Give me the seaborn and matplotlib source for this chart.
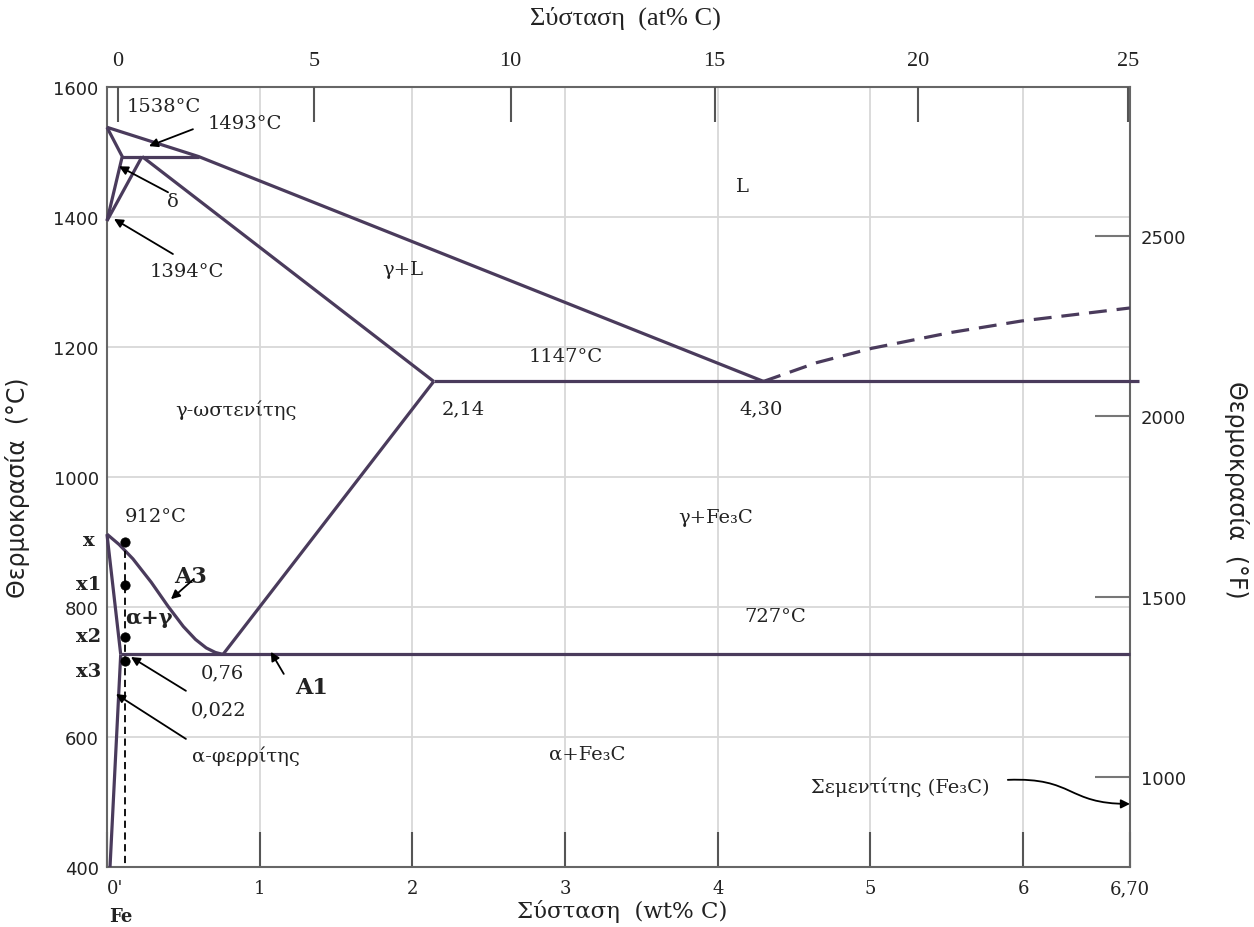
import numpy as np
import pandas as pd
import matplotlib.pyplot as plt
from matplotlib.path import Path
from matplotlib.patches import FancyArrowPatch
from matplotlib.ticker import MultipleLocator
import seaborn as sns

# Phase boundaries (wt% C, degrees C)
liquidus_wt = [0, 0.6, 4.30]
liquidus_t = [1538, 1493, 1147]
peritectic_wt = [0.1, 0.6]
peritectic_t = [1493, 1493]
delta_wt = [0, 0.1, 0]
delta_t = [1538, 1493, 1394]
delta_gamma_wt = [0.23, 0]
delta_gamma_t = [1493, 1394]
solidus_wt = [0.23, 2.14]
solidus_t = [1493, 1147]
eutectic_wt = [2.14, 6.76]
eutectic_t = [1147, 1147]
acm_wt = [2.14, 0.76]
acm_t = [1147, 727]
a3_wt = [0, 0.08, 0.17, 0.29, 0.40, 0.50, 0.58, 0.65, 0.71, 0.76]
a3_t = [912, 896, 874, 838, 801, 770, 750, 737, 730, 727]
alpha_gamma_wt = [0, 0.09]
alpha_gamma_t = [912, 727]
alpha_solvus_wt = [0.09, 0.02]
alpha_solvus_t = [727, 400]
eutectoid_wt = [0.09, 6.70]
eutectoid_t = [727, 727]
dashed_liq_wt = [4.30, 4.65, 5.01, 5.52, 5.99, 6.70]
dashed_liq_t = [1147, 1176, 1198, 1222, 1240, 1260]

# Alloy line and cooling points
alloy_wt = 0.12
alloy_t = [900, 834, 754, 717]
alloy_names = ['x', 'x1', 'x2', 'x3']
alloy_label_t = [903, 836, 755, 702]

# Axes ticks
wt_ticks = [0, 1, 2, 3, 4, 5, 6, 6.70]
wt_labels = ["0'", '1', '2', '3', '4', '5', '6', '6,70']
at_labels = ['0', '5', '10', '15', '20', '25']
at_tick_wt = [0.072, 1.355, 2.644, 3.979, 5.314, 6.688]
degf_ticks = [1000, 1500, 2000, 2500]

LINE = '#4a3b5c'
TXT = '#222222'
SERIF = 'DejaVu Serif'

sns.set_style('white')
plt.rcParams['font.family'] = ['DejaVu Sans']

fig = plt.figure(figsize=(12.54, 9.28), dpi=100)
ax = fig.add_axes([0.0853, 0.0647, 0.8158, 0.8405])

boundaries = [
    (liquidus_wt, liquidus_t), (peritectic_wt, peritectic_t),
    (delta_wt, delta_t), (delta_gamma_wt, delta_gamma_t),
    (solidus_wt, solidus_t), (eutectic_wt, eutectic_t),
    (acm_wt, acm_t), (a3_wt, a3_t), (alpha_gamma_wt, alpha_gamma_t),
    (alpha_solvus_wt, alpha_solvus_t), (eutectoid_wt, eutectoid_t),
]
for xs, ys in boundaries:
    sns.lineplot(x=xs, y=ys, sort=False, estimator=None, color=LINE,
                 lw=2.3, ax=ax, zorder=3)
for ln in ax.lines:
    ln.set_clip_on(False)
    ln.set_solid_capstyle('butt')
    ln.set_solid_joinstyle('round')

sns.lineplot(x=dashed_liq_wt, y=dashed_liq_t, sort=False, estimator=None,
             color=LINE, lw=2.3, linestyle=(0, (5.6, 3.1)), ax=ax, zorder=3)

# alloy composition line with points
ax.plot([alloy_wt, alloy_wt], [max(alloy_t) + 5, 400], color='black',
        lw=1.3, linestyle=(0, (4, 2.5)), zorder=4)
sns.scatterplot(x=[alloy_wt] * len(alloy_t), y=alloy_t, color='black', s=45,
                edgecolor='black', ax=ax, zorder=5)

ax.set_xlim(0, 6.70)
ax.set_ylim(400, 1600)

ax.set_xticks(wt_ticks)
ax.set_xticklabels(wt_labels, family=SERIF, fontsize=13, color=TXT)
ax.get_xticklabels()[0].set_ha('left')
ax.set_yticks(range(400, 1601, 200))
ax.set_yticklabels([str(v) for v in range(400, 1601, 200)], fontsize=13, color=TXT)
ax.yaxis.set_minor_locator(MultipleLocator(100))
ax.tick_params(axis='x', direction='in', length=25, width=1.5, color='#555555', pad=9)
ax.tick_params(axis='y', which='both', direction='in', length=9, width=1.3,
               color='#555555', pad=6)
ax.grid(True, color='#d8d8d8', lw=1.3, zorder=0)
for sp in ax.spines.values():
    sp.set_color('#666666')
    sp.set_linewidth(1.5)

# top axis in at% C
ax_top = ax.twiny()
ax_top.set_xlim(ax.get_xlim())
ax_top.set_xticks(at_tick_wt)
ax_top.set_xticklabels(at_labels, family='Liberation Serif', fontsize=16, color=TXT)
ax_top.tick_params(axis='x', direction='in', length=25, width=1.5, color='#555555', pad=12)
ax_top.grid(False)
for sp in ax_top.spines.values():
    sp.set_visible(False)

# right axis in degrees F
ax_f = ax.secondary_yaxis('right', functions=(lambda c: c * 9 / 5 + 32,
                                              lambda f: (f - 32) * 5 / 9))
ax_f.set_yticks(degf_ticks)
ax_f.set_yticklabels([str(v) for v in degf_ticks], fontsize=13, color=TXT)
ax_f.tick_params(direction='in', length=25, width=1.5, color='#777777', pad=8)
ax_f.spines['right'].set_visible(False)

# axis titles
fig.text(622 / 1254, 1 - 912 / 928, 'Σύσταση  (wt% C)', family=SERIF, fontsize=16.5,
         ha='center', va='center', color=TXT)
fig.text(625 / 1254, 1 - 18 / 928, 'Σύσταση  (at% C)', family='Liberation Serif',
         fontsize=19, ha='center', va='center', color=TXT)
fig.text(18 / 1254, 1 - 488 / 928, 'Θερμοκρασία  (°C)', fontsize=17, rotation=90,
         ha='center', va='center', color=TXT)
fig.text(1237 / 1254, 1 - 490 / 928, 'Θερμοκρασία  (°F)', fontsize=17, rotation=270,
         ha='center', va='center', color=TXT)

# region and point labels
labels = [
    (0.373, 1571, '1538°C'), (0.903, 1545, '1493°C'), (0.432, 1425, 'δ'),
    (0.524, 1317, '1394°C'), (4.162, 1448, 'L'), (1.937, 1320, 'γ+L'),
    (3.004, 1186, '1147°C'), (0.844, 1105, 'γ-ωστενίτης'), (2.336, 1105, '2,14'),
    (4.287, 1105, '4,30'), (0.321, 940, '912°C'), (3.986, 938, 'γ+Fe₃C'),
    (4.378, 786, '727°C'), (0.759, 700, '0,76'), (0.733, 643, '0,022'),
    (0.910, 572, 'α-φερρίτης'), (3.148, 574, 'α+Fe₃C'),
    (5.196, 525, 'Σεμεντίτης (Fe₃C)'),
]
for x, y, s in labels:
    ax.text(x, y, s, family=SERIF, fontsize=14, ha='center', va='center',
            color=TXT, zorder=6)

bold_labels = [(0.55, 848, 'A3', 16), (0.275, 785, 'α+γ', 15), (1.342, 677, 'A1', 16)]
for x, y, s, fs in bold_labels:
    ax.text(x, y, s, family=SERIF, fontsize=fs, fontweight='bold', ha='center',
            va='center', color=TXT, zorder=6)

for name, t in zip(alloy_names, alloy_label_t):
    ax.text(-0.118, t, name, family=SERIF, fontsize=14, fontweight='bold',
            ha='center', va='center', color=TXT, clip_on=False)
ax.text(0.09, 325, 'Fe', family=SERIF, fontsize=13, fontweight='bold',
        ha='center', va='center', color=TXT, clip_on=False)

arrows = [
    ((0.563, 1535), (0.275, 1509)), ((0.40, 1438), (0.079, 1478)),
    ((0.432, 1343), (0.046, 1397)), ((0.569, 843), (0.419, 812)),
    ((0.517, 671), (0.157, 723)), ((0.517, 597), (0.059, 666)),
    ((1.158, 697), (1.073, 731)),
]
for tail, head in arrows:
    ax.annotate('', xy=head, xytext=tail,
                arrowprops=dict(arrowstyle='-|>', color='black', lw=1.3,
                                mutation_scale=13, shrinkA=0, shrinkB=0),
                zorder=6)

cem_path = Path([(5.90, 534), (6.34, 538), (6.28, 497), (6.70, 497)],
                [Path.MOVETO, Path.CURVE4, Path.CURVE4, Path.CURVE4])
ax.add_patch(FancyArrowPatch(path=cem_path, arrowstyle='-|>', color='black',
                             lw=1.3, mutation_scale=13, clip_on=False, zorder=6))

fig.savefig('out.png', dpi=100)
